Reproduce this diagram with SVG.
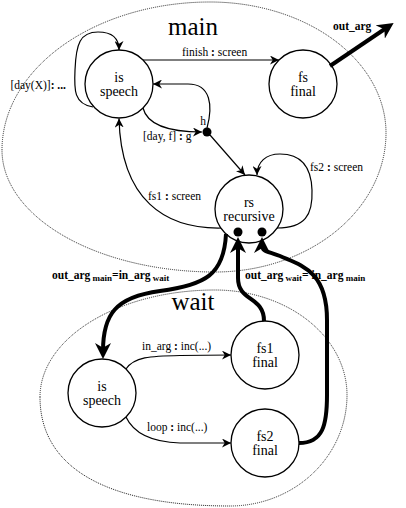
<svg xmlns="http://www.w3.org/2000/svg" width="406" height="508" viewBox="0 0 406 508">
<defs>
<marker id="ar" viewBox="0 0 10 10" refX="10" refY="5" markerWidth="9" markerHeight="9" markerUnits="userSpaceOnUse" orient="auto"><path d="M0,0 L10,5 L0,10 L3,5 z" fill="#000"/></marker>
<marker id="AR" viewBox="0 0 10 10" refX="5" refY="5" markerWidth="16" markerHeight="16" markerUnits="userSpaceOnUse" orient="auto"><path d="M0,0 L10,5 L0,10 L3,5 z" fill="#000"/></marker>
</defs>
<style>
text{font-family:'Liberation Serif','DejaVu Serif',serif}
.region{fill:none;stroke:#222;stroke-width:1;stroke-dasharray:1 1}
.node{fill:#fff;stroke:#000;stroke-width:1.3}
.nt{font-size:14px;text-anchor:middle;fill:#000}
.big{font-size:25px;text-anchor:middle;fill:#000}
.lbl{font-size:11.5px;fill:#000}
.b{font-weight:bold}
.e{fill:none;stroke:#000;stroke-width:1.2;marker-end:url(#ar)}
.t{fill:none;stroke:#000;stroke-width:4;marker-end:url(#AR)}
.dot{fill:#000}
</style>
<rect width="406" height="508" fill="#fff"/>
<g id="region-main" font-family="Liberation Serif, serif">
<path class="region" d="M2,150 A208,148 0 0 1 210,2 A176,131 0 0 1 386,133 A171,139 0 0 1 215,272 A213,122 0 0 1 2,150 Z"/>
<text class="big" x="193" y="35" font-family="Liberation Serif, serif">main</text>
</g>
<g id="region-wait" font-family="Liberation Serif, serif">
<path class="region" d="M40,397 A175,107 0 0 1 215,290 A132,105 0 0 1 347,395 A117,111 0 0 1 230,506 C107,506 40,468 40,397 Z"/>
<text class="big" x="193" y="310" font-family="Liberation Serif, serif">wait</text>
</g>
<g id="main-is-speech" font-family="Liberation Serif, serif"><circle class="node" cx="119" cy="84" r="34"/><text class="nt" x="119" y="82">is</text><text class="nt" x="119" y="96">speech</text></g>
<g id="main-fs-final" font-family="Liberation Serif, serif"><circle class="node" cx="303" cy="84" r="34"/><text class="nt" x="303" y="82">fs</text><text class="nt" x="303" y="96">final</text></g>
<g id="main-rs-recursive" font-family="Liberation Serif, serif"><circle class="node" cx="249" cy="209" r="34"/><text class="nt" x="249" y="207">rs</text><text class="nt" x="249" y="221">recursive</text></g>
<g id="main-h" font-family="Liberation Serif, serif"><circle class="dot" cx="207" cy="132" r="4.5"/><text class="lbl" x="203" y="125" text-anchor="middle">h</text></g>
<g id="wait-is-speech" font-family="Liberation Serif, serif"><circle class="node" cx="102" cy="393" r="34"/><text class="nt" x="102" y="391">is</text><text class="nt" x="102" y="405">speech</text></g>
<g id="wait-fs1-final" font-family="Liberation Serif, serif"><circle class="node" cx="265" cy="355" r="34"/><text class="nt" x="265" y="353">fs1</text><text class="nt" x="265" y="367">final</text></g>
<g id="wait-fs2-final" font-family="Liberation Serif, serif"><circle class="node" cx="265" cy="443" r="34"/><text class="nt" x="265" y="441">fs2</text><text class="nt" x="265" y="455">final</text></g>
<g id="connectors" font-family="Liberation Serif, serif">
<path class="e" d="M143,60 L279,60"/>
<text class="lbl" x="182" y="56">finish <tspan class="b">:</tspan> screen</text>
<path class="e" d="M93,107 C74,104 74,90 75,70 C76,44 80,32 98,32 C110,32 119,36 119,50"/>
<text class="lbl" x="66" y="89" text-anchor="end">[day(X)]<tspan class="b">: ...</tspan></text>
<path class="e" d="M143,108 C148,128 175,132 202,132"/>
<text class="lbl" x="143" y="140">[day, f] <tspan class="b">:</tspan> g</text>
<path class="e" d="M207,128 C213,106 211,84 188,84 L153,84"/>
<path class="e" d="M210,135 L245,175"/>
<path class="e" d="M221,228 C165,229 121,200 119,118.5"/>
<text class="lbl" x="148" y="200">fs1 <tspan class="b">:</tspan> screen</text>
<path class="e" d="M277,228 C305,228 313,215 312,190 C311,160 295,154 280,154 C266,154 257,162 257,175"/>
<text class="lbl" x="310" y="171">fs2 <tspan class="b">:</tspan> screen</text>
<path class="t" d="M330,66 L387,27.5"/>
<text class="lbl b" x="333" y="30">out_arg</text>
<path class="t" d="M226,234 C224,275 205,285 160,291 C115,297 103,315 103,351"/>
<text class="lbl b" x="52" y="279">out_arg<tspan font-size="9" dy="2"> main</tspan><tspan dy="-2">=in_arg</tspan><tspan font-size="9" dy="2"> wait</tspan></text>
<path class="t" d="M264,321 C264,296 238,302 238,278 L238,245"/>
<path class="t" d="M299,443 C323,443 327,425 327,395 L327,320 C327,270 300,265 280,256 C268,251 262,252 262,245"/>
<text class="lbl b" x="245" y="279">out_arg<tspan font-size="9" dy="2"> wait</tspan><tspan dy="-2">= in_arg</tspan><tspan font-size="9" dy="2"> main</tspan></text>
<circle class="dot" cx="238" cy="232" r="4.5"/>
<circle class="dot" cx="262" cy="232" r="4.5"/>
<path class="e" d="M126,369 C134,357 150,356 180,355.5 L231,355"/>
<text class="lbl" x="142" y="350">in_arg <tspan class="b">:</tspan> inc(...)</text>
<path class="e" d="M126,417 C133,432 150,442 180,443 L231,443"/>
<text class="lbl" x="147" y="431">loop <tspan class="b">:</tspan> inc(...)</text>
</g>
</svg>
